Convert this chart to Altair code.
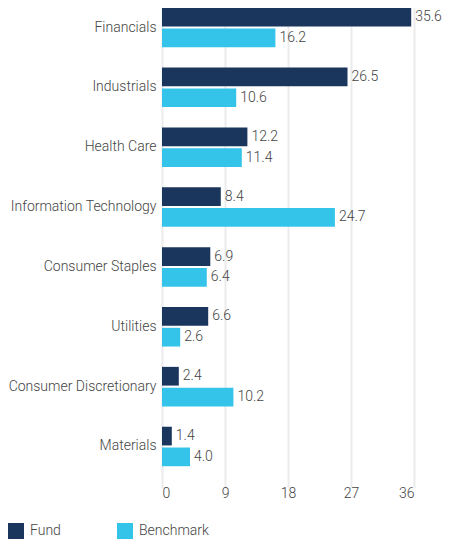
import altair as alt
import pandas as pd

categories = ["Financials", "Industrials", "Health Care", "Information Technology",
              "Consumer Staples", "Utilities", "Consumer Discretionary", "Materials"]
fund = [35.6, 26.5, 12.2, 8.4, 6.9, 6.6, 2.4, 1.4]
benchmark = [16.2, 10.6, 11.4, 24.7, 6.4, 2.6, 10.2, 4.0]
series = ["Fund", "Benchmark"]
colors = ["#1B365D", "#35C4E9"]
x_ticks = [0, 9, 18, 27, 36]

rows = []
for c, f, b in zip(categories, fund, benchmark):
    rows.append({"category": c, "series": "Fund", "value": f})
    rows.append({"category": c, "series": "Benchmark", "value": b})
df = pd.DataFrame(rows)

FONT = "Roboto"
TXT = "#444444"
FS = 14

base = alt.Chart(df).encode(
    y=alt.Y("category:N", sort=categories, title=None,
            scale=alt.Scale(paddingInner=0.34, paddingOuter=0.18, range=[-11, 469]),
            axis=alt.Axis(ticks=False, domain=False, labelPadding=6,
                          labelFontSize=FS, labelColor=TXT, labelFont=FONT,
                          labelFontWeight=300, labelLimit=200)),
    yOffset=alt.YOffset("series:N", sort=series, scale=alt.Scale(paddingInner=0.1)),
)

bars = base.mark_bar().encode(
    x=alt.X("value:Q", title=None,
            scale=alt.Scale(domain=[0, 36], nice=False),
            axis=alt.Axis(values=x_ticks, ticks=False, domain=False,
                          gridColor="#ebebeb", gridWidth=2, labelPadding=9,
                          labelFontSize=FS, labelColor=TXT, labelFont=FONT,
                          labelFontWeight=300)),
    color=alt.Color("series:N", sort=series, title=None,
                    scale=alt.Scale(domain=series, range=colors),
                    legend=alt.Legend(orient="none", legendX=-154, legendY=515,
                                      direction="horizontal", symbolType="square",
                                      symbolSize=256, symbolStrokeWidth=0,
                                      symbolOpacity=1, labelOffset=6,
                                      columnPadding=56, labelFontSize=FS,
                                      labelColor=TXT, labelFont=FONT,
                                      labelFontWeight=300)),
)

labels = base.mark_text(align="left", baseline="middle", dx=4, fontSize=FS,
                        color=TXT, font=FONT, fontWeight=300).encode(
    x=alt.X("value:Q"),
    text=alt.Text("value:Q", format=".1f"),
)

chart = alt.layer(bars, labels).properties(
    width=252, height=469,
    autosize=alt.AutoSizeParams(type="none"),
    padding={"left": 154, "top": 0, "right": 28, "bottom": 63},
).configure_view(strokeWidth=0)

chart.save("out.html", embed_options={"renderer": "svg", "actions": False})
